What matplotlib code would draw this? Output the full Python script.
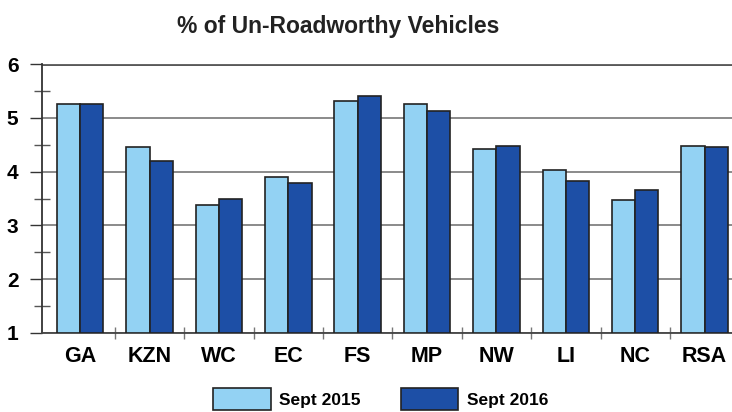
import matplotlib.pyplot as plt
import numpy as np
from matplotlib.ticker import MultipleLocator

plt.rcParams['font.family'] = ['Liberation Sans', 'DejaVu Sans']

regions = ["GA", "KZN", "WC", "EC", "FS", "MP", "NW", "LI", "NC", "RSA"]
sept_2015 = [5.25, 4.45, 3.38, 3.9, 5.32, 5.25, 4.42, 4.03, 3.48, 4.48]
sept_2016 = [5.25, 4.2, 3.5, 3.78, 5.4, 5.12, 4.48, 3.82, 3.65, 4.45]
series_names = ["Sept 2015", "Sept 2016"]

light = "#93d2f3"
dark = "#1d4fa6"

fig = plt.figure(figsize=(7.32, 4.12), dpi=100)
ax = fig.add_axes([42 / 732, 1 - 333 / 412, 1 - 42 / 732 + 0.01, (333 - 64) / 412])

x = np.arange(len(regions))
w = 0.335
b1 = ax.bar(x - w / 2, np.array(sept_2015) - 1, w, bottom=1, color=light,
            edgecolor="#222222", linewidth=1.2, zorder=3, label=series_names[0])
b2 = ax.bar(x + w / 2, np.array(sept_2016) - 1, w, bottom=1, color=dark,
            edgecolor="#222222", linewidth=1.2, zorder=3, label=series_names[1])

ax.set_ylim(1, 6)
ax.set_xlim(-0.55, 9.5)
ax.yaxis.set_major_locator(MultipleLocator(1))
ax.yaxis.set_minor_locator(MultipleLocator(0.5))
ax.tick_params(axis="y", which="major", direction="out", length=9, width=1,
               labelsize=15, pad=8, color="#333333")
ax.tick_params(axis="y", which="minor", direction="inout", length=12, width=1,
               color="#555555")
for lbl in ax.get_yticklabels():
    lbl.set_fontweight("bold")

ax.set_xticks(x)
ax.set_xticklabels(regions, fontsize=15.5, fontweight="bold")
ax.set_xticks(np.arange(0.5, 9, 1), minor=True)
ax.tick_params(axis="x", which="major", length=0, pad=9)
ax.tick_params(axis="x", which="minor", direction="inout", length=8,
               width=1, color="#777777")

ax.grid(axis="y", which="major", color="#777777", linewidth=1.2, zorder=0)
ax.axhline(6, color="#222222", linewidth=1.8, zorder=1)
for s in ["top", "right"]:
    ax.spines[s].set_visible(False)
ax.spines["left"].set_color("#333333")
ax.spines["left"].set_linewidth(1.3)
ax.spines["bottom"].set_color("#444444")
ax.spines["bottom"].set_linewidth(1.3)

fig.text(338 / 732, 1 - 27 / 412, "% of Un-Roadworthy Vehicles", ha="center",
         va="center", fontsize=16.5, fontweight="bold", color="#222222")

fig.legend(handles=[b1, b2], loc="upper center", bbox_to_anchor=(0.52, 1 - 379 / 412),
           ncol=2, frameon=False, prop={"weight": "bold", "size": 12.5},
           handlelength=3.3, handleheight=1.6, columnspacing=2.3, handletextpad=0.5,
           borderpad=0)

fig.savefig("out.png", dpi=100)
